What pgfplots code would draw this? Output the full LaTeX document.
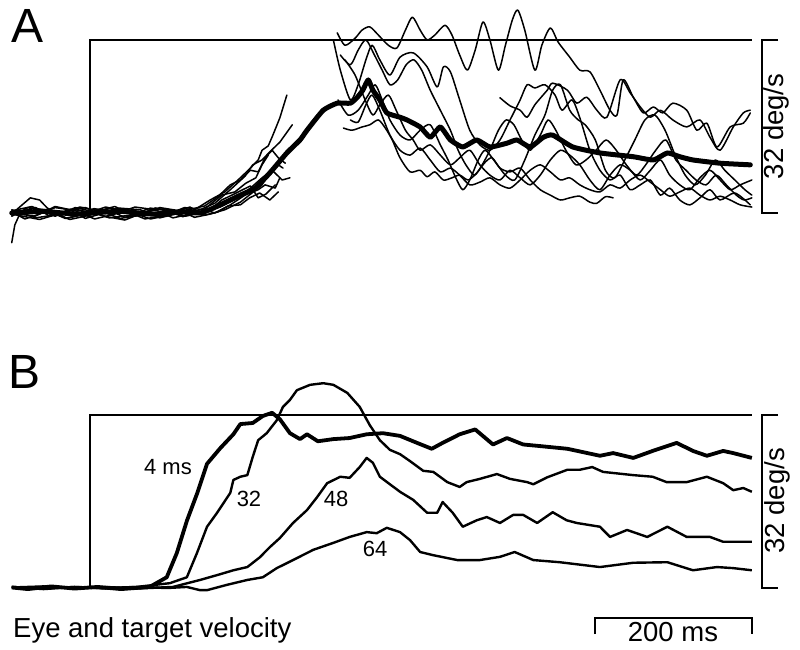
\documentclass[border=0pt]{standalone}
\usepackage{pgfplots}
\pgfplotsset{compat=1.18}
\usepackage{fontspec}
\setmainfont{Liberation Sans}
\pgfplotsset{
  thin trace/.style={black, line width=1.5pt, line join=round, line cap=round},
  late trace/.style={black, line width=1.5pt, line join=round, line cap=round, smooth, tension=0.45},
  mean trace/.style={black, line width=5pt, line join=round, line cap=round, smooth, tension=0.3},
  target/.style={black, line width=2pt, line join=miter},
  bar/.style={black, line width=2.2pt, line join=miter},
}
\begin{document}
\begin{tikzpicture}
\path[use as bounding box] (0,0) rectangle (800pt,650pt);
% ---------------- Panel A ----------------
\begin{axis}[at={(0pt,350pt)}, anchor=south west, scale only axis,
  width=800pt, height=300pt, xmin=-116.13, xmax=916.13, ymin=-16.08, ymax=39.37,
  hide axis, clip=false]
% target velocity
\addplot[target] coordinates {(0,0) (0,32) (854,32)};
% early segments of individual trials
\addplot[thin trace] coordinates {(-101,-0.2)(-90,1.2)(-77,2.8)(-65,2.4)(-55,0.9)(-45,0.2)(-30,-1.0)(-13,-0.4)(5,0.8)(26,0.4)(45,-0.8)(65,-0.2)(85,0.9)(103,0.2)(120,-0.7)(136,0.7)(155,2.4)(174,3.9)(194,6.5)(207,8.3)(217,9.8)(222,11.6)(230,12.4)(236,14.4)(245,17.6)(254,21.8)};
\addplot[thin trace] coordinates {(-101,-5.5)(-97,-2.2)(-90,0)(-70,1.0)(-52,-0.6)(-25,0.7)(0,0.2)(25,-0.9)(52,-0.4)(78,0.9)(103,0.4)(122,-0.6)(142,0.6)(161,1.8)(181,4.3)(200,6.8)(210,8.9)(222,9.8)(232,11.3)(245,13.1)(261,16.3)};
\addplot[thin trace] coordinates {(-101,0.2)(-84,-1.1)(-65,-0.2)(-45,1.0)(-26,0.6)(-6,-1.0)(13,-0.2)(38,0.9)(65,0.6)(90,-0.9)(116,0)(133,0.8)(148,1.3)(165,3.0)(181,5.2)(194,6.1)(207,7.9)(217,7.6)(226,10.2)(235,11.6)(243,10.2)(252,9.2)};
\addplot[thin trace] coordinates {(-101,-0.4)(-75,0.9)(-52,0.2)(-26,-1.2)(0,-0.4)(26,0.9)(52,0.2)(78,-1.1)(103,-0.4)(122,0.8)(142,0.2)(168,1.1)(191,2.8)(207,4.6)(222,6.5)(235,7.9)(248,6.1)(258,6.5)};
\addplot[thin trace] coordinates {(-101,0.6)(-70,-0.9)(-39,-0.2)(-13,1.1)(13,0.4)(39,-1.0)(65,-0.4)(90,1.0)(116,0.4)(135,-0.8)(155,-0.2)(174,0.6)(194,2.0)(209,3.7)(222,5.2)(232,7.6)(243,8.9)(249,8.3)};
\addplot[thin trace] coordinates {(-101,-0.6)(-80,1.0)(-58,0.6)(-32,-1.0)(-6,-0.2)(20,1.1)(45,0.4)(71,-1.1)(97,-0.4)(122,1.0)(148,0.6)(161,0)(181,1.5)(200,3.3)(217,4.3)(226,5.2)(239,4.6)(245,6.5)};
\addplot[thin trace] coordinates {(-101,0)(-71,-0.6)(-45,1.2)(-19,0.4)(6,-1.1)(32,-0.2)(58,1.1)(84,0.6)(107,-0.9)(129,-0.2)(155,0.6)(170,2.4)(183,3.3)(197,4.3)(207,5.0)(217,2.8)(227,3.5)(239,5.2)};
\addplot[thin trace] coordinates {(-101,0.4)(-75,1.2)(-45,-0.6)(-19,1.0)(6,0.2)(32,1.2)(58,-0.6)(84,0.9)(110,0.2)(129,1.1)(148,-0.4)(165,0.2)(178,1.3)(194,1.5)(206,2.8)(219,3.7)(232,2.4)(243,3.9)};
\addplot[thin trace] coordinates {(-101,-0.2)(-65,-1.2)(-32,0.2)(-6,1.0)(19,-0.6)(45,-1.3)(71,0.2)(97,0.8)(123,-0.6)(142,0)(157,1.8)(170,3.3)(187,3.9)(201,5.5)(214,6.5)(222,8.9)(230,10.7)};
% late segments of individual trials
\addplot[late trace] coordinates {(319,33.3)(329,31.0)(342,32.3)(351,33.8)(361,34.4)(372,32.9)(385,31.0)(396,30.5)(407,33.8)(416,36.2)(426,33.8)(435,32.0)(445,32.9)(458,34.7)(467,32.9)(477,29.2)(487,26.4)(497,30.1)(507,35.3)(516,32.0)(527,26.4)(536,31.0)(545,35.7)(552,37.5)(561,33.8)(574,26.4)(583,31.0)(594,34.2)(604,31.6)(619,28.8)(632,26.4)(645,26.1)(658,22.7)(671,19.0)(680,18.1)(688,24.6)(701,21.4)(714,18.5)(727,19.6)(739,18.5)(752,20.3)(770,19.0)(783,15.3)(796,16.6)(809,12.2)(826,15.9)(843,16.6)(852,18.5)};
\addplot[late trace] coordinates {(314,32.0)(323,26.4)(336,20.9)(346,23.7)(356,28.3)(364,31.0)(374,28.3)(387,25.5)(400,28.8)(417,29.6)(435,27.0)(448,23.3)(456,27.0)(465,26.1)(477,20.9)(490,15.3)(503,12.6)(516,11.6)(529,13.5)(542,17.2)(555,20.9)(564,23.7)(574,23.1)(587,23.7)(600,21.8)(609,19.0)(622,20.9)(632,17.6)(645,11.6)(658,7.9)(671,6.1)(684,7.0)(697,4.3)(710,5.2)(723,6.1)(736,3.3)(748,4.6)(761,2.4)(774,1.5)(787,2.8)(800,4.3)(813,2.4)(832,3.7)(852,1.5)};
\addplot[late trace] coordinates {(327,15.7)(338,15.3)(351,15.9)(361,16.3)(372,17.2)(381,15.7)(390,13.5)(400,10.2)(413,7.6)(426,7.9)(435,6.7)(445,7.6)(456,6.1)(467,6.5)(477,7.0)(488,6.1)(499,7.4)(510,9.4)(519,10.2)(529,8.3)(542,7.6)(555,8.3)(568,6.1)(581,4.3)(594,3.3)(607,2.4)(619,2.8)(632,3.1)(645,2.0)(654,1.8)(665,3.0)(675,2.8)};
\addplot[late trace] coordinates {(320,20.9)(333,18.1)(346,19.0)(359,21.8)(368,23.7)(377,20.9)(387,17.2)(400,14.4)(413,13.5)(426,15.3)(439,16.3)(452,12.6)(462,9.8)(472,6.5)(481,4.3)(490,6.1)(501,9.8)(510,11.6)(523,9.4)(536,7.0)(548,6.1)(561,9.8)(574,14.4)(587,18.1)(597,22.7)(607,23.7)(619,19.0)(630,17.2)(639,16.3)(652,13.5)(665,7.9)(677,6.5)(690,9.8)(703,13.5)(716,17.2)(729,18.1)(742,15.3)(755,10.7)(768,7.0)(781,5.2)(794,7.0)(807,9.8)(819,7.9)(832,6.1)(845,4.3)(854,3.3)};
\addplot[late trace] coordinates {(529,21.3)(542,19.8)(555,19.0)(564,17.7)(574,20.0)(590,22.7)(597,24.0)(616,22.7)(628,20.3)(641,21.4)(654,19.0)(667,17.7)(684,24.6)(697,22.2)(710,19.6)(723,17.7)(736,19.0)(752,17.2)(770,15.9)(787,17.2)(800,14.0)(813,11.6)(830,15.9)(843,18.5)(852,19.0)};
\addplot[late trace] coordinates {(329,28.3)(342,25.5)(355,20.9)(365,18.1)(374,20.0)(385,21.8)(395,19.0)(407,15.3)(417,13.5)(426,11.6)(439,12.6)(452,10.7)(465,8.9)(477,10.2)(490,11.6)(503,8.9)(516,7.0)(529,6.1)(542,7.9)(555,6.5)(568,5.2)(581,7.0)(594,9.8)(607,11.6)(619,10.7)(632,8.9)(645,6.1)(658,4.3)(671,7.0)(684,8.9)(697,7.9)(710,6.1)(723,7.9)(736,9.8)(748,7.0)(761,5.2)(774,4.3)(787,6.5)(800,7.9)(813,6.1)(826,4.3)(839,5.2)(854,6.1)};
\addplot[late trace] coordinates {(323,29.2)(336,27.4)(346,30.1)(356,32.0)(367,29.2)(377,26.4)(387,23.7)(397,24.6)(408,27.4)(418,28.3)(428,26.4)(439,22.7)(452,19.0)(465,15.3)(475,11.6)(485,8.9)(496,7.0)(506,8.9)(516,11.6)(527,15.3)(537,17.2)(547,16.3)(557,13.5)(568,11.6)(581,14.4)(591,17.2)(601,15.3)(614,11.6)(627,8.9)(640,9.8)(653,11.6)(666,13.5)(679,11.6)(692,8.9)(705,7.0)(717,8.9)(730,11.6)(743,13.5)(756,9.8)(769,7.9)(782,6.1)(795,5.2)(808,7.0)(821,5.2)(834,3.3)(844,2.4)(854,2.8)};
\addplot[late trace] coordinates {(336,17.2)(346,16.8)(356,20.0)(364,21.8)(374,19.0)(387,14.4)(400,11.6)(413,10.7)(426,12.0)(439,9.8)(452,7.6)(465,8.3)(477,7.0)(490,5.2)(503,5.7)(516,6.5)(529,5.2)(542,4.6)(555,6.1)(568,7.9)(581,8.9)(594,7.6)(607,6.1)(619,6.5)(632,5.2)(645,4.3)(658,3.9)(671,5.2)(684,4.6)(697,6.1)(710,7.0)(723,5.7)(736,4.3)(748,3.1)(761,3.9)(774,4.6)(787,3.3)(800,2.4)(813,3.1)(826,2.4)(839,1.5)(854,1.1)};
% average eye velocity
\addplot[mean trace] coordinates {(-101,0)(-60,0.3)(-20,-0.2)(0,0)(40,0.3)(80,-0.2)(120,0.2)(142,0)(159,0.9)(194,3.3)(213,4.6)(232,7.4)(254,11.1)(271,13.5)(280,15.3)(301,19.0)(319,20.3)(336,20.3)(345,21.4)(352,22.7)(359,24.6)(365,22.7)(374,20.9)(383,18.5)(400,17.7)(409,17.2)(426,15.9)(439,14.0)(452,15.9)(465,13.5)(481,12.2)(499,13.5)(516,12.2)(538,12.9)(551,13.5)(568,12.2)(585,14.0)(597,14.4)(623,12.2)(658,11.1)(701,10.4)(727,9.8)(745,11.1)(761,10.4)(778,9.8)(813,9.2)(852,8.9)};
% vertical scale bar
\addplot[bar] coordinates {(888,32) (867,32) (867,0) (888,0)};
\node[rotate=90, font=\fontsize{27.5}{30}\selectfont] at (axis cs:886,16) {32 deg/s};
\end{axis}
% ---------------- Panel B ----------------
\begin{axis}[at={(0pt,0pt)}, anchor=south west, scale only axis,
  width=800pt, height=350pt, xmin=-116.13, xmax=916.13, ymin=-11.53, ymax=53.58,
  hide axis, clip=false]
\addplot[target] coordinates {(0,0) (0,32.2) (854,32.2)};
% 64 ms
\addplot[black, line width=2.4pt, line join=round] coordinates {(-101,0.2)(-60,-0.2)(-20,0.2)(20,-0.1)(60,0.2)(100,0)(125,0.2)(142,-0.4)(151,-0.4)(177,0.6)(203,1.5)(223,2.0)(241,3.7)(262,5.2)(288,7.1)(314,8.4)(335,9.5)(357,10.4)(370,10.2)(383,11.2)(400,10.4)(413,8.9)(426,6.7)(443,6.1)(474,5.2)(503,5.2)(529,5.8)(548,6.7)(572,5.2)(606,4.8)(658,3.9)(701,4.7)(745,4.8)(778,3.3)(809,3.9)(830,3.7)(854,3.3)};
% 48 ms
\addplot[black, line width=2.4pt, line join=round] coordinates {(-101,0.1)(-60,0.3)(-20,-0.1)(20,0.2)(60,-0.1)(107,0.2)(142,1.5)(164,2.4)(185,3.3)(203,3.9)(219,5.7)(232,7.6)(245,9.3)(262,12.1)(280,14.5)(293,16.9)(306,19.5)(323,20.7)(335,20.5)(348,22.5)(357,24.2)(365,23.3)(374,20.7)(387,19.3)(400,17.9)(417,16.4)(435,14.0)(448,14.0)(455,16.0)(468,14.0)(481,11.4)(499,12.6)(512,13.2)(529,12.1)(546,13.6)(559,13.6)(577,12.1)(597,14.1)(615,12.6)(628,12.1)(658,11.4)(671,9.5)(693,10.8)(719,9.5)(745,11.4)(770,9.5)(800,9.5)(817,8.6)(854,8.6)};
% 32 ms
\addplot[black, line width=2.4pt, line join=round] coordinates {(-101,0.2)(-60,-0.1)(-20,0.2)(20,0)(60,0.2)(103,0.9)(125,2.0)(138,6.5)(151,11.4)(164,14.0)(181,17.7)(185,20.1)(194,20.7)(203,21.0)(210,24.4)(217,27.5)(228,28.8)(241,31.2)(249,33.7)(258,35.0)(267,36.8)(284,37.8)(301,38.1)(314,37.8)(332,36.3)(348,33.7)(361,30.3)(374,27.5)(387,25.7)(400,24.9)(413,23.6)(430,21.8)(443,21.6)(461,19.7)(477,18.8)(486,19.7)(503,20.3)(525,21.2)(542,20.3)(564,19.7)(572,19.3)(590,20.6)(616,22.0)(632,22.0)(648,22.5)(662,21.6)(701,21.0)(726,20.7)(744,19.7)(770,19.7)(796,20.7)(817,19.5)(830,18.2)(843,18.6)(854,17.9)};
% 4 ms
\addplot[black, line width=3.8pt, line join=round] coordinates {(-101,0.1)(-80,-0.2)(-50,0.3)(-20,-0.1)(10,0.2)(40,-0.2)(77,0.2)(99,2.0)(112,6.5)(125,12.5)(138,17.5)(151,23.1)(168,26.0)(185,28.6)(194,30.5)(210,30.7)(223,32.0)(235,32.6)(245,31.4)(258,28.8)(271,27.7)(280,28.6)(294,27.3)(314,27.7)(335,27.9)(357,28.6)(378,28.8)(400,28.3)(422,27.0)(441,25.9)(455,27.0)(477,28.6)(497,29.5)(520,26.7)(538,27.9)(559,26.7)(581,26.4)(616,25.9)(658,24.6)(675,25.1)(701,24.2)(726,25.5)(757,27.0)(778,25.5)(796,24.6)(817,25.5)(830,25.1)(854,24.2)};
% scale bars
\addplot[bar] coordinates {(888,32.2) (867,32.2) (867,0) (888,0)};
\addplot[bar] coordinates {(652,-8.6) (652,-5.6) (854,-5.6) (854,-8.6)};
\node[rotate=90, font=\fontsize{27.5}{30}\selectfont] at (axis cs:887,16.2) {32 deg/s};
\end{axis}
% ---------------- Text ----------------
\node[anchor=base west, inner sep=0pt, font=\fontsize{48}{50}\selectfont] at (11pt,607pt) {A};
\node[anchor=base west, inner sep=0pt, font=\fontsize{48}{50}\selectfont] at (8pt,261pt) {B};
\node[anchor=base west, inner sep=0pt, font=\fontsize{27.5}{30}\selectfont] at (13pt,12pt) {Eye and target velocity};
\node[anchor=base, inner sep=0pt, font=\fontsize{27.5}{30}\selectfont] at (673pt,8pt) {200 ms};
\node[anchor=base, inner sep=0pt, font=\fontsize{22}{24}\selectfont] at (168pt,175pt) {4 ms};
\node[anchor=base, inner sep=0pt, font=\fontsize{22}{24}\selectfont] at (249pt,143pt) {32};
\node[anchor=base, inner sep=0pt, font=\fontsize{22}{24}\selectfont] at (336pt,143pt) {48};
\node[anchor=base, inner sep=0pt, font=\fontsize{22}{24}\selectfont] at (375pt,93pt) {64};
\end{tikzpicture}
\end{document}
